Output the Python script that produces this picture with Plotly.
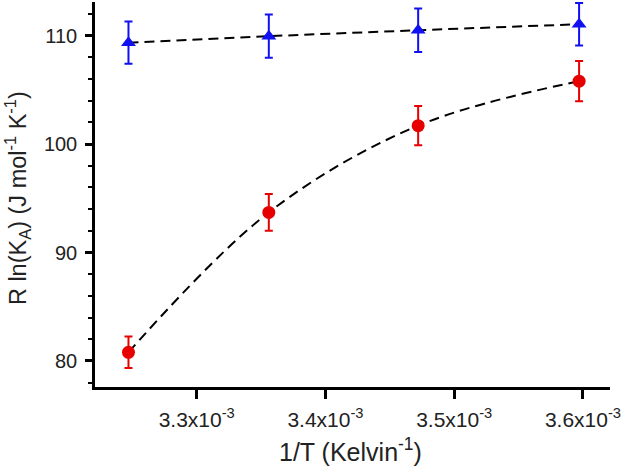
import plotly.graph_objects as go

inv_T = [3.247e-3, 3.356e-3, 3.472e-3, 3.597e-3]
blue_y = [109.35, 109.95, 110.5, 111.05]
blue_err = [1.95, 2.0, 2.0, 1.95]
red_y = [80.8, 93.7, 101.7, 105.8]
red_err = [1.45, 1.7, 1.8, 1.85]
x_tickvals = [3.3e-3, 3.4e-3, 3.5e-3, 3.6e-3]
x_ticktext = ["3.3x10<sup>-3</sup>", "3.4x10<sup>-3</sup>", "3.5x10<sup>-3</sup>", "3.6x10<sup>-3</sup>"]
y_tickvals = [80, 90, 100, 110]
x_title = "1/T (Kelvin<sup>-1</sup>)"
y_title = "R ln(K<sub>A</sub>) (J mol<sup>-1</sup> K<sup>-1</sup>)"

BLUE = "#1010f0"
RED = "#e60000"
FONT = "Liberation Sans, Arial, sans-serif"
TXT = "#222222"

fig = go.Figure()
# fit curves (dashed)
fig.add_trace(go.Scatter(x=inv_T, y=blue_y, mode="lines",
                         line=dict(color="black", dash="10px,6px", width=2), hoverinfo="skip"))
fig.add_trace(go.Scatter(x=inv_T, y=red_y, mode="lines",
                         line=dict(color="black", dash="10px,6px", width=2, shape="spline", smoothing=1.0),
                         hoverinfo="skip"))
# data points
fig.add_trace(go.Scatter(x=inv_T, y=blue_y, mode="markers",
                         marker=dict(symbol="triangle-up", size=13, color=BLUE),
                         error_y=dict(type="data", array=blue_err, color=BLUE, thickness=2, width=4)))
fig.add_trace(go.Scatter(x=inv_T, y=red_y, mode="markers",
                         marker=dict(symbol="circle", size=13, color=RED),
                         error_y=dict(type="data", array=red_err, color=RED, thickness=2, width=4)))

fig.update_layout(
    width=633, height=468,
    margin=dict(l=95, r=23, t=2, b=81),
    paper_bgcolor="white", plot_bgcolor="white",
    showlegend=False,
    font=dict(family=FONT, size=19, color=TXT),
    xaxis=dict(range=[3.221e-3, 3.621e-3], showline=True, linecolor="black", linewidth=2.5,
               showgrid=False, zeroline=False, ticks="outside", ticklen=9, tickwidth=2.5,
               tickcolor="black", tickvals=x_tickvals, ticktext=x_ticktext, automargin=False,
               ticklabelstandoff=3,
               tickfont=dict(family=FONT, size=21, color=TXT)),
    yaxis=dict(range=[77.6, 113.1], showline=True, linecolor="black", linewidth=2.5,
               showgrid=False, zeroline=False, ticks="outside", ticklen=7, tickwidth=2.5,
               tickcolor="black", tickvals=y_tickvals, automargin=False,
               ticklabelstandoff=4,
               minor=dict(ticks="outside", ticklen=4, tickwidth=2, tickcolor="black", dtick=2),
               tickfont=dict(family=FONT, size=20, color=TXT)),
    annotations=[
        dict(text=y_title, textangle=-90, xref="paper", yref="paper",
             x=-0.15, y=0.49, xanchor="center", yanchor="middle",
             showarrow=False, font=dict(family=FONT, size=23.5, color=TXT)),
        dict(text=x_title, xref="paper", yref="paper",
             x=0.497, y=-0.163, xanchor="center", yanchor="middle",
             showarrow=False, font=dict(family=FONT, size=25, color=TXT)),
    ],
)

fig.write_html("out.html", post_script="document.body.style.margin='0';",
               config={"displayModeBar": False})
